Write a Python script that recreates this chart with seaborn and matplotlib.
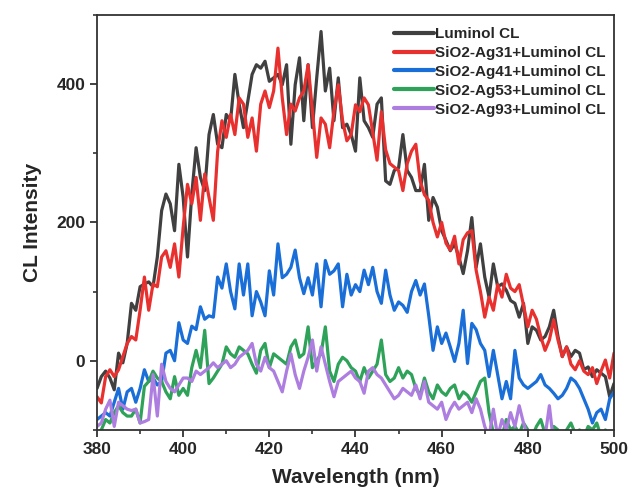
import matplotlib
matplotlib.use('Agg')
import matplotlib.pyplot as plt
from matplotlib.ticker import MultipleLocator
import seaborn as sns
import numpy as np
import pandas as pd

# wavelength grid (nm), 1 nm step
wavelength = np.arange(380, 501)

luminol = [
    -40, -23, -15, -25, -42, 11, -3, 25, 83, 73,
    107, 111, 114, 107, 150, 217, 241, 227, 188, 284,
    236, 150, 241, 308, 265, 246, 327, 356, 313, 308,
    356, 347, 414, 371, 337, 375, 414, 428, 423, 433,
    404, 409, 414, 399, 428, 313, 399, 438, 347, 428,
    337, 409, 476, 390, 423, 347, 409, 337, 342, 327,
    303, 409, 347, 337, 323, 371, 380, 260, 255, 275,
    279, 327, 275, 265, 246, 246, 284, 203, 236, 222,
    188, 174, 159, 169, 150, 126, 159, 207, 135, 169,
    121, 92, 140, 107, 111, 102, 87, 83, 63, 83,
    25, 49, 44, 30, 35, 49, 73, 35, 6, 20,
    6, 15, 11, -13, -9, -23, -13, -18, -23, -52,
    -33,
]

ag31 = [
    -52, -61, -23, -13, -23, -13, 6, 25, 35, 30,
    73, 121, 73, 111, 107, 150, 159, 135, 169, 121,
    193, 255, 227, 265, 203, 270, 236, 203, 303, 347,
    323, 356, 327, 380, 371, 323, 351, 303, 371, 390,
    366, 390, 452, 380, 327, 371, 361, 380, 390, 428,
    361, 294, 351, 342, 308, 361, 399, 347, 318, 327,
    370, 360, 380, 370, 330, 290, 360, 305, 285, 280,
    275, 246, 285, 303, 313, 260, 240, 232, 200, 179,
    200, 170, 160, 180, 140, 175, 185, 188, 131, 100,
    63, 92, 73, 110, 92, 125, 105, 100, 110, 80,
    49, 73, 60, 35, 15, 30, 59, 30, 6, 20,
    -5, -13, 0, -15, -20, -10, -33, -15, 1, -25,
    11,
]

ag41 = [
    -85, -80, -75, -80, -60, -40, -70, -45, -40, -60,
    -40, -13, -30, -25, -35, -30, 11, 15, 0, 55,
    30, 25, 50, 45, 78, 60, 65, 63, 121, 105,
    140, 100, 75, 140, 95, 140, 65, 100, 85, 65,
    130, 95, 169, 120, 125, 135, 160, 120, 97, 120,
    95, 140, 78, 145, 125, 130, 140, 78, 125, 95,
    110, 100, 131, 110, 135, 100, 83, 131, 95, 73,
    85, 80, 70, 100, 116, 95, 111, 65, 15, 49,
    25, 40, 20, -1, 25, 73, -4, 54, 45, 25,
    15, -23, 15, -20, -55, -30, -55, 15, -25, -35,
    -40, -35, -30, -20, -35, -40, -47, -55, -50, -40,
    -25, -30, -40, -55, -70, -90, -75, -70, -85, -55,
    -45,
]

ag53 = [
    -105, -100, -85, -90, -75, -65, -75, -80, -80, -70,
    -90, -37, -30, -15, -25, -30, -45, -55, -23, -50,
    -40, -50, -10, 15, -10, 44, -33, -25, -15, -5,
    20, 10, 5, 20, 15, 10, -5, -18, 15, 25,
    -10, 10, 5, 0, -5, 20, 30, 5, 10, 49,
    -10, 0, 10, 49, -15, -30, -5, 5, 0, -10,
    -15, -30, -10, -25, -15, -5, 30, -20, -30, -25,
    -10, -25, -15, -20, -40, -50, -25, -45, -55, -35,
    -45, -50, -40, -35, -55, -45, -50, -60, -45, -30,
    -25, -75, -105, -100, -110, -85, -100, -95, -105, -90,
    -100, -110, -95, -85, -105, -110, -95, -100, -115, -100,
    -90, -105, -100, -110, -95, -100, -90, -110, -100, -115,
    -110,
]

ag93 = [
    -95, -90, -70, -57, -95, -60, -65, -70, -72, -70,
    -90, -88, -85, -20, -80, -5, -30, -40, -45, -35,
    -25, -25, -30, -15, -20, -15, -10, -3, -10, -5,
    0, -10, -5, 5, 10, 15, 25, -5, -15, 5,
    -10, -15, -30, -45, -15, 10, -20, -40, -15, 5,
    30, -15, 20, -5, -30, -52, -30, -25, -20, -15,
    -25, -30, -47, -15, -10, -20, -25, -35, -45, -55,
    -50, -40, -45, -50, -35, -55, -30, -60, -65, -70,
    -60, -85, -70, -60, -70, -65, -60, -75, -55, -70,
    -95, -110, -70, -110, -85, -100, -75, -95, -65, -90,
    -110, -120, -115, -120, -110, -65, -120, -125, -120, -125,
    -120, -125, -120, -125, -120, -125, -120, -125, -120, -125,
    -120,
]

labels = ['Luminol CL', 'SiO2-Ag31+Luminol CL', 'SiO2-Ag41+Luminol CL',
          'SiO2-Ag53+Luminol CL', 'SiO2-Ag93+Luminol CL']
colors = ['#404040', '#e8312f', '#1a6ed8', '#2fa25a', '#ad7ee0']
series = [luminol, ag31, ag41, ag53, ag93]

df = pd.concat([
    pd.DataFrame({'Wavelength': wavelength, 'Intensity': vals, 'Sample': lab})
    for lab, vals in zip(labels, series)
], ignore_index=True)

sns.set_style("ticks")
plt.rcParams['font.family'] = ['Liberation Sans', 'DejaVu Sans']
plt.rcParams['font.weight'] = 'bold'

fig = plt.figure(figsize=(6.32, 4.97), dpi=100)
ax = fig.add_axes([0.1535, 0.135, 0.818, 0.835])

sns.lineplot(data=df, x='Wavelength', y='Intensity', hue='Sample',
             hue_order=labels, palette=dict(zip(labels, colors)),
             linewidth=2.3, ax=ax, estimator=None, sort=False)

ax.set_xlim(380, 500)
ax.set_ylim(-100, 500)
ax.xaxis.set_major_locator(MultipleLocator(20))
ax.xaxis.set_minor_locator(MultipleLocator(10))
ax.yaxis.set_major_locator(MultipleLocator(200))
ax.yaxis.set_minor_locator(MultipleLocator(100))
ax.tick_params(which='major', direction='out', length=5, width=1.3,
               labelsize=12.5, color='#333333')
ax.tick_params(which='minor', direction='out', length=3, width=1.2,
               color='#333333')
for lab in ax.get_xticklabels() + ax.get_yticklabels():
    lab.set_fontweight('bold')
for sp in ax.spines.values():
    sp.set_linewidth(1.3)
    sp.set_color('#333333')

ax.set_xlabel('Wavelength (nm)', fontsize=15, fontweight='bold', labelpad=8)
ax.set_ylabel('CL Intensity', fontsize=15, fontweight='bold', labelpad=10)

# legend sits just under the top spine, flush right
leg = ax.legend(loc='upper right', bbox_to_anchor=(1.0, 0.991), frameon=False,
                handlelength=2.6, handletextpad=0.1, labelspacing=0.32,
                borderaxespad=0.15, prop={'weight': 'bold', 'size': 11})
for line in leg.get_lines():
    line.set_linewidth(3)

plt.savefig('out.png', dpi=100, facecolor='white')
plt.close()
